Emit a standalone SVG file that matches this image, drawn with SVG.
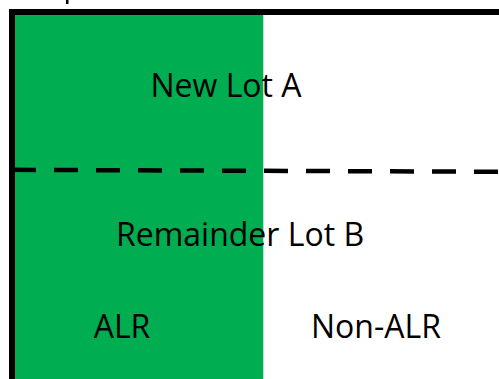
<svg xmlns="http://www.w3.org/2000/svg" width="499" height="379" viewBox="0 0 499 379">
  <style>
    .lbl { font-family: "Open Sans", "Noto Sans", sans-serif; font-size: 32px; fill: #000; text-anchor: middle; }
  </style>
  <rect width="499" height="379" fill="#fff"/>
  <!-- ALR area -->
  <g id="alr-area">
    <rect x="15" y="15" width="248.3" height="364" fill="#00AD50"/>
  </g>
  <!-- parcel boundary -->
  <g id="boundary">
    <rect x="66" y="0" width="2.5" height="4" fill="#000"/>
    <path d="M12 379 V12 H499" fill="none" stroke="#000" stroke-width="6"/>
  </g>
  <!-- subdivision line -->
  <g id="connectors">
    <line x1="12" y1="169.8" x2="499" y2="171.8" stroke="#000" stroke-width="4.5" stroke-dasharray="24 18"/>
  </g>
  <g id="lot-a"><text class="lbl" x="226" y="97">New Lot A</text></g>
  <g id="lot-b"><text class="lbl" x="240" y="246">Remainder Lot B</text></g>
  <g id="alr"><text class="lbl" x="122" y="338">ALR</text></g>
  <g id="non-alr"><text class="lbl" x="376" y="338">Non-ALR</text></g>
</svg>
